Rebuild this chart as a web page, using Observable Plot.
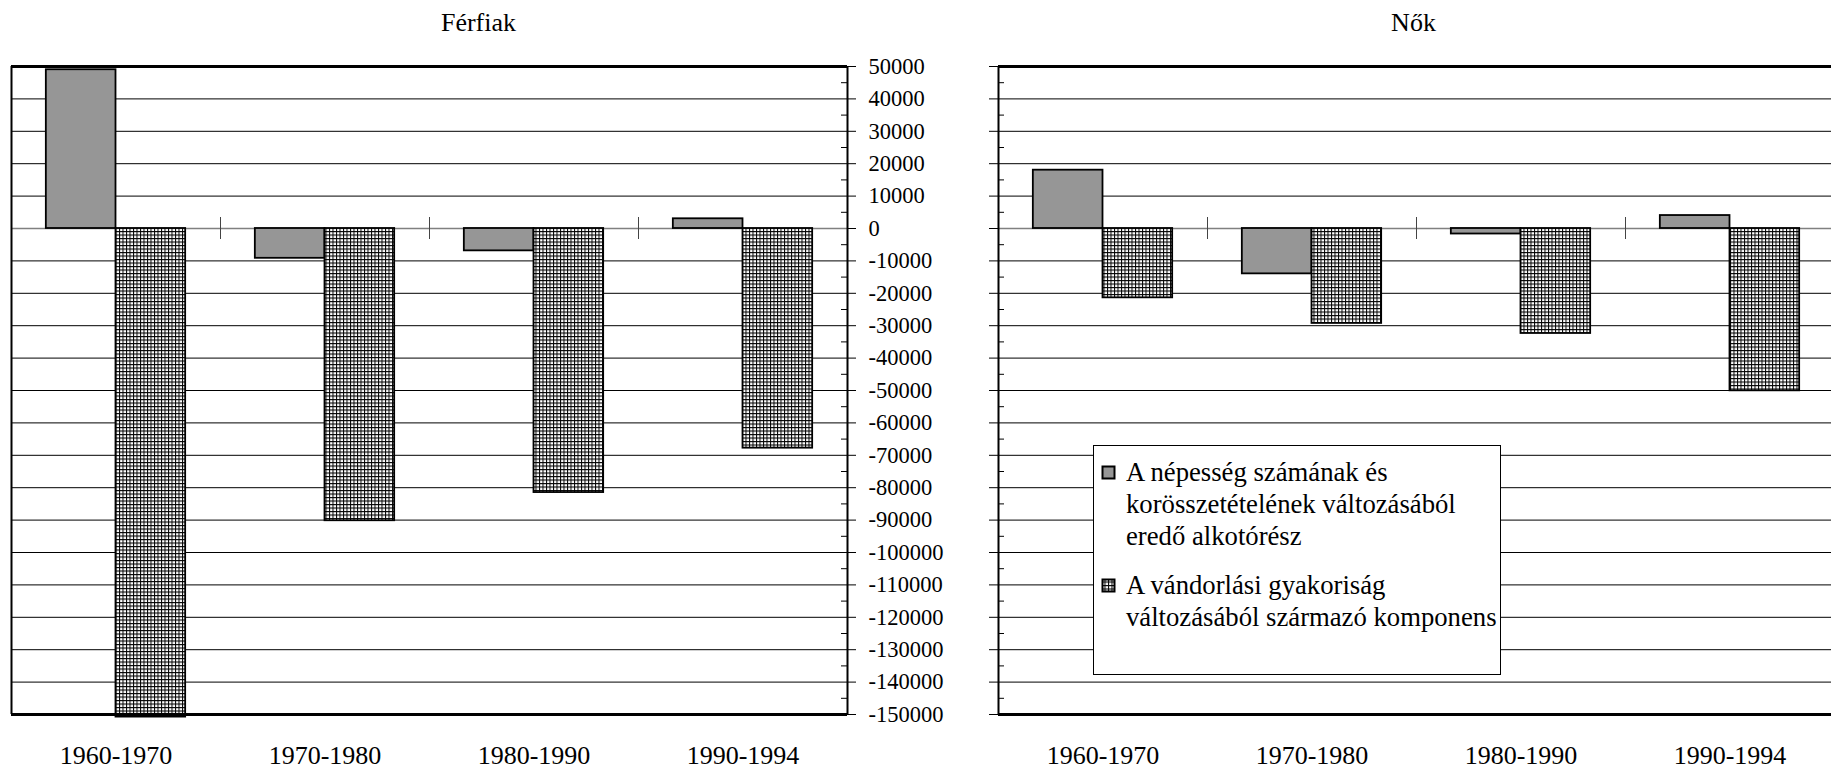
<!DOCTYPE html>
<html><head><meta charset="utf-8">
<script src="https://cdn.jsdelivr.net/npm/d3@7"></script>
<script src="https://cdn.jsdelivr.net/npm/@observablehq/plot@0.6"></script>
<style>
html,body{margin:0;padding:0;background:#fff;overflow:hidden;width:1831px;height:770px}
#wrap{position:relative;width:1831px;height:770px;overflow:hidden;font-family:"Liberation Serif","Times New Roman",serif;color:#000}
.panel{position:absolute;top:0}
#legend{position:absolute;left:1093px;top:445px;width:408px;height:230px;border:1px solid #000;background:#fff;box-sizing:border-box;font-size:26.7px;line-height:32px}
.entry{position:absolute;left:32px;white-space:nowrap}
</style>
</head><body>
<svg width="0" height="0" style="position:absolute">
  <defs>
    <pattern id="grid" width="3.5" height="3.5" patternUnits="userSpaceOnUse">
      <rect width="3.5" height="3.5" fill="#fff"/>
      <path d="M0,0.5H3.5M0.5,0V3.5" stroke="#000" stroke-width="1"/>
    </pattern>
  </defs>
</svg>
<div id="wrap"></div>
<script>
// ---- data ----
const periods = ["1960-1970", "1970-1980", "1980-1990", "1990-1994"];
const seriesNames = [
  "A népesség számának és korösszetételének változásából eredő alkotórész",
  "A vándorlási gyakoriság változásából származó komponens"
];
const legendLines = [
  ["A népesség számának és", "korösszetételének változásából", "eredő alkotórész"],
  ["A vándorlási gyakoriság", "változásából származó komponens"]
];
const panelTitles = ["Férfiak", "Nők"];
const ferfiakNepesseg = [49000, -9200, -6900, 3000];
const ferfiakVandorlas = [-150800, -90200, -81500, -67800];
const nokNepesseg = [18000, -14000, -1700, 4000];
const nokVandorlas = [-21400, -29300, -32400, -50100];
const yTicks = d3.range(-150000, 50001, 10000);
const yMinor = d3.range(-145000, 50000, 10000);
const yDomain = [-150000, 50000];

const FONT = '"Liberation Serif","Times New Roman",serif';

function panel({title, nep, van, width, marginLeft, marginRight, side, titleDx}) {
  const height = 770, marginTop = 66, marginBottom = 56;
  const fw = width - marginLeft - marginRight;
  const bw = fw / periods.length;
  const nepData = periods.map((p, i) => ({period: p, value: nep[i], series: seriesNames[0]}));
  const vanData = periods.map((p, i) => ({period: p, value: van[i], series: seriesNames[1]}));
  const marks = [
    Plot.ruleY(yTicks.filter(d => d !== 0 && d !== yDomain[0] && d !== yDomain[1]), {stroke: "#000", strokeWidth: 1}),
    Plot.ruleY([0], {stroke: "#808080", strokeWidth: 1.5}),
    Plot.ruleX(periods.slice(1), {x: d => d, dx: -bw / 2, y1: 0, y2: 0, insetTop: -11, insetBottom: -11, stroke: "#444", strokeWidth: 1}),
    Plot.barY(nepData, {x: "period", y: "value", fill: "#969696", stroke: "#000", strokeWidth: 1.8, insetLeft: bw / 6, insetRight: bw / 2}),
    Plot.barY(vanData, {x: "period", y: "value", fill: "url(#grid)", stroke: "#000", strokeWidth: 1.8, insetLeft: bw / 2, insetRight: bw / 6}),
    Plot.ruleY([yDomain[1], yDomain[0]], {stroke: "#000", strokeWidth: 3}),
    Plot.text([title], {frameAnchor: "top", dx: titleDx, dy: -36, lineAnchor: "bottom", fontSize: 26, fill: "#000"})
  ];
  if (side === "right") {
    marks.push(
      Plot.ruleX([periods[0]], {x: d => d, dx: -bw / 2, stroke: "#000", strokeWidth: 2}),
      Plot.ruleX([periods[periods.length - 1]], {x: d => d, dx: bw / 2, stroke: "#000", strokeWidth: 2}),
      Plot.ruleY(yTicks, {insetLeft: fw, insetRight: -9, stroke: "#000", strokeWidth: 1}),
      Plot.ruleY(yMinor, {insetLeft: fw - 6, stroke: "#000", strokeWidth: 1}),
      Plot.axisY({anchor: "right", ticks: yTicks, tickSize: 0, tickPadding: 21, tickFormat: d => String(d), fontSize: 22.5, fill: "#000", label: null})
    );
  } else {
    marks.push(
      Plot.ruleX([periods[0]], {x: d => d, dx: -bw / 2, stroke: "#000", strokeWidth: 2}),
      Plot.ruleY(yTicks, {insetRight: fw, insetLeft: -9, stroke: "#000", strokeWidth: 1}),
      Plot.ruleY(yMinor, {insetRight: fw - 6, stroke: "#000", strokeWidth: 1})
    );
  }
  return Plot.plot({
    width, height, marginTop, marginBottom, marginLeft, marginRight,
    style: {fontFamily: FONT, fontSize: "26px", color: "#000", background: "transparent", overflow: "visible"},
    x: {domain: periods, padding: 0, axis: "bottom", tickSize: 0, tickPadding: 31, label: null, fontSize: 26},
    y: {domain: yDomain, axis: null},
    marks
  });
}

const wrap = document.getElementById("wrap");
const left = panel({title: panelTitles[0], nep: ferfiakNepesseg, van: ferfiakVandorlas, width: 960, marginLeft: 11, marginRight: 113, side: "right", titleDx: 49});
left.classList.add("panel"); left.style.left = "0px";
wrap.appendChild(left);
const right = panel({title: panelTitles[1], nep: nokNepesseg, van: nokVandorlas, width: 874, marginLeft: 38, marginRight: 0, side: "left", titleDx: -3});
right.classList.add("panel"); right.style.left = "960px";
wrap.appendChild(right);

// legend
const legend = document.createElement("div");
legend.id = "legend";
const entryTops = [10, 123];
const fills = ["#969696", "url(#grid)"];
legendLines.forEach((lines, k) => {
  const sw = document.createElementNS("http://www.w3.org/2000/svg", "svg");
  sw.setAttribute("width", 16); sw.setAttribute("height", 16);
  sw.style.position = "absolute"; sw.style.left = "7px"; sw.style.top = (entryTops[k] + 9) + "px";
  const r = document.createElementNS("http://www.w3.org/2000/svg", "rect");
  r.setAttribute("x", 1.5); r.setAttribute("y", 1.5); r.setAttribute("width", 12); r.setAttribute("height", 12);
  r.setAttribute("fill", fills[k]); r.setAttribute("stroke", "#000"); r.setAttribute("stroke-width", 2);
  sw.appendChild(r);
  legend.appendChild(sw);
  const e = document.createElement("div");
  e.className = "entry";
  e.style.top = entryTops[k] + "px";
  e.innerHTML = lines.map(l => `<div>${l}</div>`).join("");
  legend.appendChild(e);
});
wrap.appendChild(legend);
</script>
</body></html>
